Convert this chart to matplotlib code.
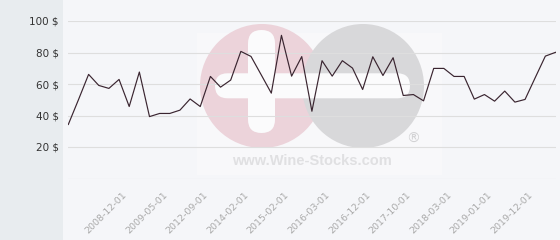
import matplotlib
matplotlib.use("Agg")
import matplotlib.pyplot as plt
from matplotlib.patches import Rectangle, Ellipse, FancyBboxPatch
from matplotlib.transforms import ScaledTranslation

# ---- data ----
values = [34.3, 50.0, 66.1, 59.1, 57.2, 62.9, 45.7, 67.6, 39.3, 41.3, 41.3, 43.4,
          50.5, 45.7, 64.8, 58.0, 62.5, 80.7, 77.5, 65.9, 54.2, 90.9, 65.0, 77.4,
          42.7, 74.8, 65.0, 74.8, 70.1, 56.5, 77.3, 65.4, 76.7, 52.7, 53.3, 49.3,
          69.9, 69.9, 64.8, 64.8, 50.4, 53.3, 49.1, 55.5, 48.5, 50.2, 64.0, 77.7, 80.1]
tick_labels = ["2008-12-01", "2009-05-01", "2012-09-01", "2014-02-01", "2015-02-01",
               "2016-03-01", "2016-12-01", "2017-10-01", "2018-03-01", "2019-01-01",
               "2019-12-01"]
tick_index = [6 + 4 * k for k in range(len(tick_labels))]
y_ticks = [0, 20, 40, 60, 80, 100]
y_labels = ["" if v == 0 else f"{v} $" for v in y_ticks]

W, H = 560, 240
fig = plt.figure(figsize=(W / 100, H / 100), dpi=100)
T = fig.dpi_scale_trans

def px(x, y):
    return (x / 100, (H - y) / 100)

# backgrounds
fig.patches.append(Rectangle(px(0, H), 63 / 100, H / 100, transform=T,
                             facecolor="#e8ecef", edgecolor="none", zorder=-5))
fig.patches.append(Rectangle(px(63, H), (W - 63) / 100, H / 100, transform=T,
                             facecolor="#f5f6f9", edgecolor="none", zorder=-5))

# watermark
fig.patches.append(Rectangle(px(197, 175), 245 / 100, 142 / 100, transform=T,
                             facecolor="#f8f8fa", edgecolor="none", zorder=-4))
fig.patches.append(Ellipse(px(262, 86), 124 / 100, 124 / 100, transform=T,
                           facecolor="#ecd3da", edgecolor="none", zorder=-3))
fig.patches.append(Ellipse(px(363, 86), 122 / 100, 124 / 100, transform=T,
                           facecolor="#d8d8da", edgecolor="none", zorder=-3))
fig.patches.append(FancyBboxPatch(px(215 + 12.5, 98.3 - 12.5), (195 - 25) / 100, 0.0001,
                                  boxstyle="round,pad=0.125", transform=T,
                                  facecolor="#fbfbfc", edgecolor="none", zorder=-2))
fig.patches.append(FancyBboxPatch(px(248 + 13.5, 133 - 13.5), 0.0001, (103 - 27) / 100,
                                  boxstyle="round,pad=0.135", transform=T,
                                  facecolor="#fbfbfc", edgecolor="none", zorder=-2))
fig.text(*px(312, 161), "www.Wine-Stocks.com", transform=T, ha="center", va="center",
         fontsize=10.5, fontweight="bold", color="#e0e0e2", family="Liberation Sans",
         zorder=-1)
fig.text(*px(413, 139), "®", transform=T, ha="center", va="center",
         fontsize=10, color="#d2d2d4", family="DejaVu Sans", zorder=-1)

# axes
left, right = 68.3, 555.5
top, bottom = 21.0, 178.5
ax = fig.add_axes([left / W, 1 - bottom / H, (right - left) / W, (bottom - top) / H])
ax.set_facecolor("none")
ax.plot(range(len(values)), values, color="#3a2530", lw=0.85, zorder=3)
ax.set_xlim(0, len(values) - 1)
ax.set_ylim(0, 100)
ax.set_yticks(y_ticks)
ax.set_yticklabels(y_labels, fontsize=7.5, color="#333333")
ax.set_xticks(tick_index)
ax.set_xticklabels(tick_labels, rotation=45, ha="right", rotation_mode="anchor",
                   va="center", fontsize=6.8, color="#aaaaaa")
ax.tick_params(axis="both", length=0)
ax.tick_params(axis="y", pad=7)
ax.tick_params(axis="x", pad=11)
shift = ScaledTranslation(-4 / 100, 0, fig.dpi_scale_trans)
for lab in ax.get_xticklabels():
    lab.set_transform(lab.get_transform() + shift)
ax.grid(axis="y", color="#dedede", lw=0.8)
ax.set_axisbelow(True)
for s in ax.spines.values():
    s.set_visible(False)

fig.savefig("out.png", dpi=100)
